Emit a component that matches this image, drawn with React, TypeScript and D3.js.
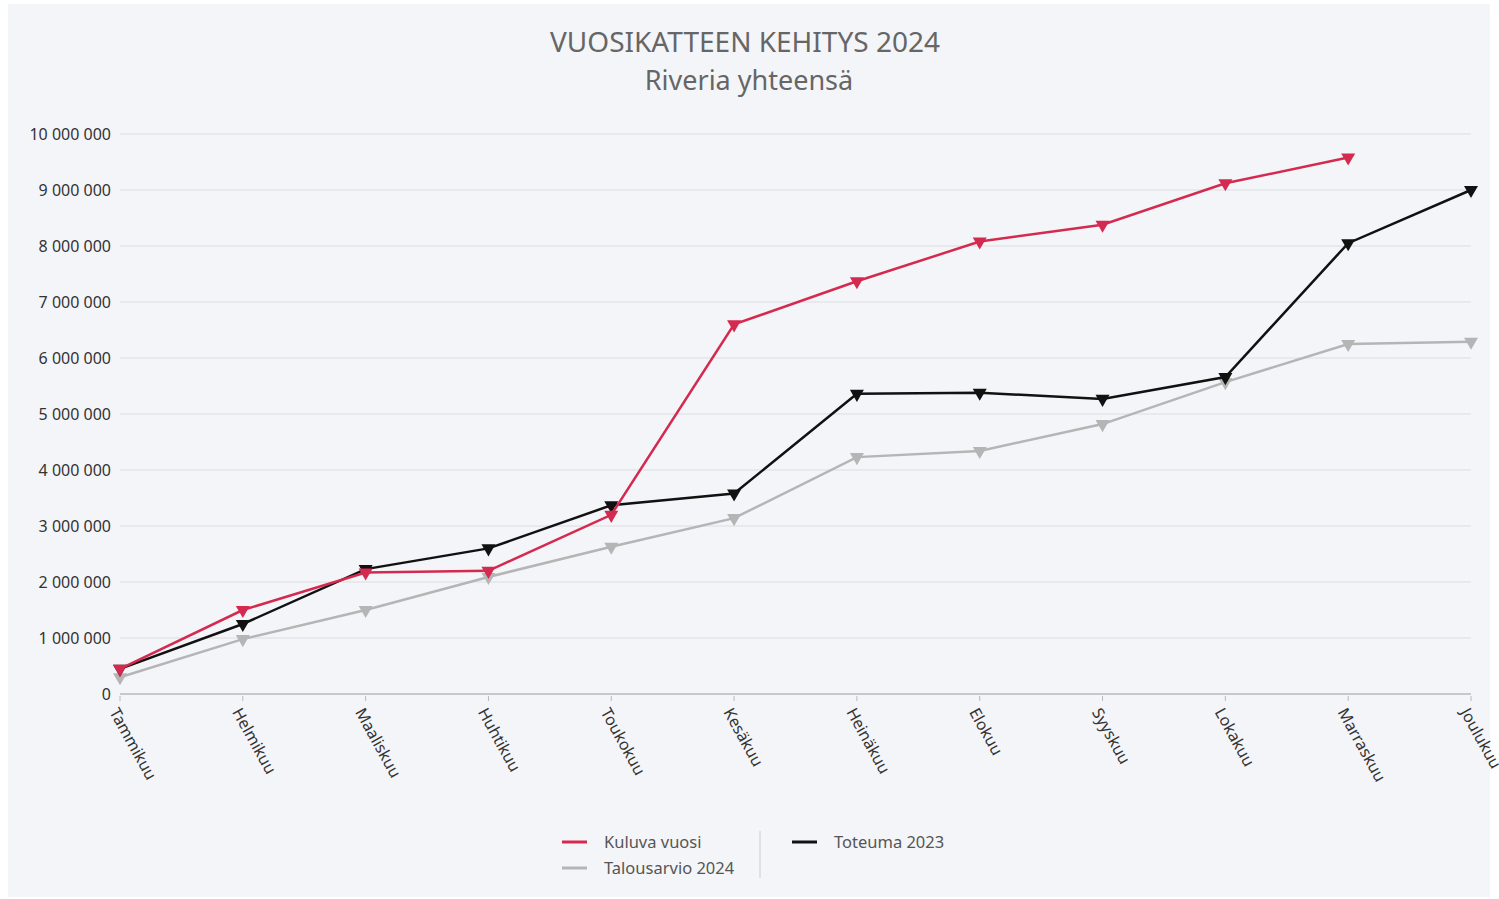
import { useEffect, useRef } from 'react';
import * as d3 from 'd3';

// Months on the x axis
const months = [
  'Tammikuu', 'Helmikuu', 'Maaliskuu', 'Huhtikuu', 'Toukokuu', 'Kesäkuu',
  'Heinäkuu', 'Elokuu', 'Syyskuu', 'Lokakuu', 'Marraskuu', 'Joulukuu',
];

// Series values (euros)
const kuluvaVuosi: (number | null)[] = [
  450000, 1500000, 2170000, 2200000, 3200000, 6600000,
  7370000, 8080000, 8380000, 9120000, 9580000, null,
];
const toteuma2023 = [
  450000, 1250000, 2230000, 2600000, 3370000, 3580000,
  5360000, 5380000, 5270000, 5660000, 8050000, 9000000,
];
const talousarvio2024 = [
  300000, 980000, 1500000, 2090000, 2630000, 3140000,
  4230000, 4340000, 4820000, 5570000, 6250000, 6290000,
];

const yTicks = [0, 1000000, 2000000, 3000000, 4000000, 5000000, 6000000, 7000000, 8000000, 9000000, 10000000];

const W = 1499;
const H = 899;

const App: React.FC = () => {
  const ref = useRef<SVGSVGElement>(null);

  useEffect(() => {
    const svg = d3.select(ref.current);
    svg.selectAll('*').remove();

    const font = "'Noto Sans', 'Open Sans', sans-serif";

    // background panel
    svg.append('rect').attr('width', W).attr('height', H).attr('fill', '#ffffff');
    svg.append('rect')
      .attr('x', 8).attr('y', 4).attr('width', 1482).attr('height', 893)
      .attr('fill', '#f4f5f9');

    const x = d3.scalePoint<string>().domain(months).range([120, 1471]);
    const y = d3.scaleLinear().domain([0, 10000000]).range([694, 134]);

    const fmt = (v: number) => d3.format(',')(v).replace(/,/g, ' ');

    // title
    svg.append('text')
      .attr('x', 745).attr('y', 52)
      .attr('text-anchor', 'middle')
      .style('font-family', font).style('font-size', '28px').style('fill', '#666')
      .text('VUOSIKATTEEN KEHITYS 2024');
    svg.append('text')
      .attr('x', 749).attr('y', 90)
      .attr('text-anchor', 'middle')
      .style('font-family', font).style('font-size', '27px').style('fill', '#666')
      .text('Riveria yhteensä');

    // gridlines + y labels
    svg.append('g')
      .selectAll('line')
      .data(yTicks.slice(1))
      .enter()
      .append('line')
      .attr('x1', 120).attr('x2', 1471)
      .attr('y1', (d) => y(d)).attr('y2', (d) => y(d))
      .attr('stroke', '#dcdde1').attr('stroke-width', 1);

    svg.append('g')
      .selectAll('text')
      .data(yTicks)
      .enter()
      .append('text')
      .attr('x', 111)
      .attr('y', (d) => y(d) + 6)
      .attr('text-anchor', 'end')
      .style('font-family', font).style('font-size', '16px').style('fill', '#333')
      .text((d) => fmt(d));

    // x axis
    const xAxis = svg.append('g').attr('transform', 'translate(0,694)');
    xAxis.append('line').attr('x1', 120).attr('x2', 1471).attr('stroke', '#b8b8b8').attr('stroke-width', 1.5);
    xAxis.selectAll('.tick')
      .data(months)
      .enter()
      .append('line')
      .attr('x1', (d) => x(d)!).attr('x2', (d) => x(d)!)
      .attr('y1', 2).attr('y2', 7)
      .attr('stroke', '#b8b8b8');
    xAxis.selectAll('.lbl')
      .data(months)
      .enter()
      .append('text')
      .attr('transform', (d) => `translate(${x(d)! - 11},${18}) rotate(61)`)
      .style('font-family', font).style('font-size', '16px').style('fill', '#333')
      .text((d) => d);

    const series = [
      { name: 'Talousarvio 2024', values: talousarvio2024 as (number | null)[], color: '#b5b5b5' },
      { name: 'Toteuma 2023', values: toteuma2023 as (number | null)[], color: '#111111' },
      { name: 'Kuluva vuosi', values: kuluvaVuosi, color: '#d42a4f' },
    ];

    const line = d3.line<number | null>()
      .defined((d) => d != null)
      .x((_, i) => x(months[i])!)
      .y((d) => y(d as number));

    const tri = d3.symbol().type(d3.symbolTriangle).size(85);

    series.forEach((s) => {
      svg.append('path')
        .datum(s.values)
        .attr('d', line)
        .attr('fill', 'none')
        .attr('stroke', s.color)
        .attr('stroke-width', 2.5);
      svg.append('g')
        .selectAll('path')
        .data(s.values.map((v, i) => ({ v, i })).filter((d) => d.v != null))
        .enter()
        .append('path')
        .attr('d', tri)
        .attr('transform', (d) => `translate(${x(months[d.i])},${y(d.v as number)}) rotate(180)`)
        .attr('fill', s.color);
    });

    // legend
    const legend = svg.append('g').style('font-family', font).style('font-size', '16.5px');
    const items = [
      { name: 'Kuluva vuosi', color: '#d42a4f', lx: 562, ly: 842 },
      { name: 'Talousarvio 2024', color: '#b5b5b5', lx: 562, ly: 868 },
      { name: 'Toteuma 2023', color: '#111111', lx: 792, ly: 842 },
    ];
    items.forEach((it) => {
      legend.append('line')
        .attr('x1', it.lx).attr('x2', it.lx + 25)
        .attr('y1', it.ly).attr('y2', it.ly)
        .attr('stroke', it.color).attr('stroke-width', 3);
      legend.append('text')
        .attr('x', it.lx + 42).attr('y', it.ly + 6)
        .style('fill', '#555')
        .text(it.name);
    });
    legend.append('line')
      .attr('x1', 760).attr('x2', 760).attr('y1', 831).attr('y2', 878)
      .attr('stroke', '#ccc').attr('stroke-width', 1);
  }, []);

  return (
    <div style={{ position: 'absolute', left: 0, top: 0 }}>
      <svg ref={ref} width={W} height={H} style={{ display: 'block' }}></svg>
    </div>
  );
};

export default App;
